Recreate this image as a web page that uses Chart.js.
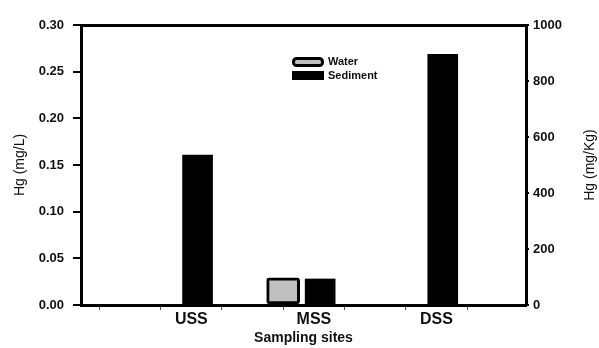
<!DOCTYPE html>
<html>
<head>
<meta charset="utf-8">
<script src="https://cdn.jsdelivr.net/npm/chart.js@4/dist/chart.umd.min.js"></script>
<style>
  html, body { margin: 0; padding: 0; background: #fff; }
  #wrap { width: 599px; height: 348px; position: relative; }
</style>
</head>
<body>
<div id="wrap"><canvas id="c"></canvas></div>
<script>
// Mercury at the three sampling sites
const sites = ['USS', 'MSS', 'DSS'];
const waterHg = [0, 0.029, 0];        // Hg in water, mg/L (left axis)
const sedimentHg = [535, 93, 895];    // Hg in sediment, mg/Kg (right axis)

// Axis tick values
const waterTicks = [0, 0.05, 0.10, 0.15, 0.20, 0.25, 0.30];
const sedimentTicks = [0, 200, 400, 600, 800, 1000];

// Site positions on the x scale are 1, 2, 3
const xMin = 0.2, xMax = 3.83;
const markStart = 0.35, markStep = 0.5, markCount = 7;  // small tick marks on the x axis
const labelShift = 0.1;                                   // site names sit slightly right of the bars

const BLACK = '#000000';
const FONT = 'Arial, "Liberation Sans", sans-serif';

// Legend drawn inside the plot, under the top frame
const legendPlugin = {
  id: 'innerLegend',
  afterDraw(chart) {
    const ctx = chart.ctx;
    const x0 = 292, w = 32;
    ctx.save();
    chart.data.datasets.forEach((ds, i) => {
      const y = i === 0 ? 57 : 71;
      const h = i === 0 ? 10 : 9;
      ctx.beginPath();
      if (ds.borderWidth) {
        ctx.lineWidth = ds.borderWidth;
        ctx.fillStyle = ds.backgroundColor;
        ctx.strokeStyle = ds.borderColor;
        ctx.roundRect(x0 + 1.5, y + 1.5, w - 3, h - 3, 3);
        ctx.fill();
        ctx.stroke();
      } else {
        ctx.fillStyle = ds.backgroundColor;
        ctx.fillRect(x0, y, w, h);
      }
      ctx.fillStyle = '#111';
      ctx.font = 'bold 11px ' + FONT;
      ctx.textBaseline = 'middle';
      ctx.textAlign = 'left';
      ctx.fillText(ds.label, x0 + w + 4, y + h / 2);
    });
    ctx.restore();
  }
};

// Right-hand axis title, read bottom-to-top like the left one
const rightTitlePlugin = {
  id: 'rightTitle',
  afterDraw(chart) {
    const sc = chart.scales.ySed;
    const ctx = chart.ctx;
    ctx.save();
    ctx.translate(sc.right - 9, (chart.chartArea.top + chart.chartArea.bottom) / 2);
    ctx.rotate(-Math.PI / 2);
    ctx.fillStyle = '#111';
    ctx.font = '14px ' + FONT;
    ctx.textAlign = 'center';
    ctx.textBaseline = 'middle';
    ctx.fillText(sc.options.title.text, 0, 0);
    ctx.restore();
  }
};

const toXY = (arr) => arr.map((v, i) => ({ x: i + 1, y: v }));

new Chart(document.getElementById('c'), {
  type: 'bar',
  data: {
    datasets: [
      {
        label: 'Water',
        data: toXY(waterHg),
        yAxisID: 'yWater',
        backgroundColor: '#c0c0c0',
        borderColor: BLACK,
        borderWidth: 3,
        borderRadius: 3,
        borderSkipped: false,
        barThickness: 37,
        maxBarThickness: 33
      },
      {
        label: 'Sediment',
        data: toXY(sedimentHg),
        yAxisID: 'ySed',
        backgroundColor: BLACK,
        borderWidth: 0,
        barThickness: 37,
        maxBarThickness: 30
      }
    ]
  },
  options: {
    responsive: true,
    maintainAspectRatio: false,
    animation: false,
    devicePixelRatio: 1,
    layout: { padding: { top: 25, left: 0, right: 0, bottom: 0 } },
    plugins: {
      legend: { display: false },
      tooltip: { enabled: false }
    },
    scales: {
      x: {
        type: 'linear',
        position: 'bottom',
        min: xMin,
        max: xMax,
        offset: false,
        afterBuildTicks(scale) {
          const t = [];
          for (let k = 0; k < markCount; k++) t.push({ value: markStart + k * markStep });
          sites.forEach((s, i) => t.push({ value: i + 1 + labelShift, site: s }));
          t.sort((a, b) => a.value - b.value);
          scale.ticks = t;
        },
        afterFit(scale) { scale.height = 43; },
        border: { display: true, color: BLACK, width: 3 },
        grid: {
          offset: false,
          drawOnChartArea: false,
          drawTicks: true,
          tickLength: 5,
          lineWidth: 1,
          color: (c) => (c.tick && c.tick.site ? 'rgba(0,0,0,0)' : '#555')
        },
        ticks: {
          autoSkip: false,
          maxRotation: 0,
          padding: 0,
          color: '#111',
          font: { family: FONT, size: 16, weight: 'bold' },
          callback: (v, i, ticks) => ticks[i].site || ''
        },
        title: {
          display: true,
          text: 'Sampling sites',
          color: '#111',
          font: { family: FONT, size: 14, weight: 'bold' },
          padding: { top: 0, bottom: 1 }
        }
      },
      xTop: {
        type: 'linear',
        position: 'top',
        min: xMin,
        max: xMax,
        afterFit(scale) { scale.height = 0; },
        border: { display: true, color: BLACK, width: 3 },
        grid: { display: false },
        ticks: { display: false }
      },
      yWater: {
        type: 'linear',
        position: 'left',
        min: 0,
        max: 0.30,
        afterBuildTicks(scale) { scale.ticks = waterTicks.map(v => ({ value: v })); },
        afterFit(scale) { scale.width = 81; },
        border: { display: true, color: BLACK, width: 3 },
        grid: { drawOnChartArea: false, drawTicks: true, tickLength: 8, lineWidth: 2, color: BLACK },
        ticks: {
          padding: 9,
          color: '#111',
          font: { family: FONT, size: 13, weight: 'bold' },
          callback: (v) => Number(v).toFixed(2)
        },
        title: {
          display: true,
          text: 'Hg (mg/L)',
          color: '#111',
          font: { family: FONT, size: 14 },
          padding: { top: 12, bottom: 0 }
        }
      },
      ySed: {
        type: 'linear',
        position: 'right',
        min: 0,
        max: 1000,
        afterBuildTicks(scale) { scale.ticks = sedimentTicks.map(v => ({ value: v })); },
        afterFit(scale) { scale.width = 73; },
        border: { display: true, color: BLACK, width: 3 },
        grid: { drawOnChartArea: false, drawTicks: true, tickLength: 3, lineWidth: 2, color: BLACK },
        ticks: {
          padding: 4,
          color: '#111',
          font: { family: FONT, size: 13, weight: 'bold' },
          callback: (v) => String(v)
        },
        title: {
          display: false,
          text: 'Hg (mg/Kg)'
        }
      }
    }
  },
  plugins: [legendPlugin, rightTitlePlugin]
});
</script>
</body>
</html>
